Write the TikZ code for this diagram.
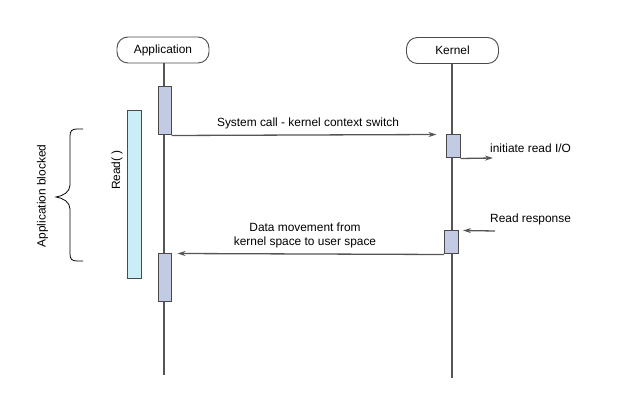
\documentclass[tikz,border=0pt]{standalone}
\usepackage{fontspec}
\setmainfont{Liberation Sans}
\usetikzlibrary{arrows.meta}
\definecolor{linegray}{HTML}{555555}
\definecolor{bordergray}{HTML}{4A4A4A}
\definecolor{barfill}{HTML}{C3CAE3}
\definecolor{readfill}{HTML}{CBEDF5}
\tikzset{
  lbl/.style={font=\fontsize{11.9}{14}\selectfont, text=black, inner sep=0pt},
  actor/.style={draw=bordergray, line width=0.9pt, rounded corners=11pt, minimum width=92pt, minimum height=26pt, inner sep=0pt, font=\fontsize{11.9}{14}\selectfont},
  actbar/.style={draw=bordergray, line width=1pt, fill=barfill, inner sep=0pt, minimum width=13pt},
  readbar/.style={draw=bordergray, line width=1pt, fill=readfill, inner sep=0pt, minimum width=14pt},
  life/.style={draw=linegray, line width=1.3pt},
  msg/.style={draw=linegray, line width=1.3pt, -{Stealth[length=8pt,width=5pt]}},
}
\begin{document}
\begin{tikzpicture}[x=1pt,y=-1pt]
\useasboundingbox (0,0) rectangle (637,403);
% actors
\node[actor] (app) at (163,50) {Application};
\node[actor] (kern) at (452.5,50.5) {Kernel};
\coordinate (append) at (164,375);
\coordinate (kernend) at (452,378);
\draw[life] (app.south -| append) -- (append);
\draw[life] (kern.south -| kernend) -- (kernend);
% activation bars
\node[actbar, minimum height=48pt] (a1) at (164.5,111) {};
\node[actbar, minimum height=48pt] (a2) at (164.5,278) {};
\node[actbar, minimum width=14pt, minimum height=23pt] (k1) at (453,146.5) {};
\node[actbar, minimum width=14pt, minimum height=23pt] (k2) at (451.5,242.5) {};
\node[readbar, minimum height=168pt] (rd) at (134,195) {};
% messages
\draw[msg] (a1.south east) -- ([xshift=-9pt]k1.north west);
\node[lbl] (m1) at (308,123) {System call - kernel context switch};
\coordinate (io) at (493,158);
\draw[msg] (k1.south east) -- (io);
\node[lbl, anchor=west] (m2) at (490,148) {initiate read I/O};
\coordinate (resp) at (495,231);
\draw[msg] (resp) -- ([xshift=4pt]k2.north east);
\node[lbl, anchor=west] (m3) at (490,219) {Read response};
\draw[msg] (k2.south west) -- ([xshift=6pt]a2.north east);
\node[lbl, align=center] (m4) at (305,235) {Data movement from\\kernel space to user space};
% read label
\node[lbl, rotate=90] (rl) at (117,170) {Read( )};
% brace
\draw[draw=black, line width=0.8pt] (83,129) -- (77,129)
  .. controls (72,129) and (70,131) .. (70,136) -- (70,185)
  .. controls (70,192) and (63,196) .. (56,197)
  .. controls (63,198) and (70,202) .. (70,209) -- (70,254)
  .. controls (70,259) and (72,261) .. (77,261) -- (83,261);
\node[lbl, rotate=90] (ab) at (42.5,196) {Application blocked};
\end{tikzpicture}
\end{document}
